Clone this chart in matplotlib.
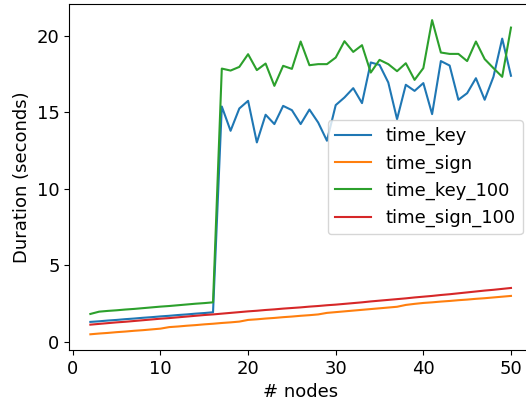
import matplotlib
matplotlib.use("Agg")
import matplotlib.pyplot as plt

nodes = list(range(2, 51))

time_key = [1.29, 1.33, 1.38, 1.42, 1.47, 1.51, 1.56, 1.60, 1.65, 1.69, 1.74, 1.78, 1.83, 1.87, 1.92,
            15.38, 13.79, 15.25, 15.75, 13.03, 14.84, 14.23, 15.42, 15.14, 14.23,
            15.18, 14.33, 13.14, 15.47, 15.97, 16.58, 15.60, 18.26, 18.10, 16.95,
            14.55, 16.80, 16.40, 16.91, 14.88, 18.35, 18.06, 15.82, 16.25, 17.23,
            15.82, 17.32, 19.82, 17.39]

time_sign = [0.48, 0.53, 0.57, 0.62, 0.66, 0.71, 0.75, 0.80, 0.85, 0.95, 0.99, 1.04, 1.08, 1.13, 1.17,
             1.22, 1.26, 1.31, 1.42, 1.46, 1.51, 1.55, 1.60, 1.64, 1.69, 1.73, 1.78, 1.88, 1.93,
             1.98, 2.03, 2.08, 2.13, 2.18, 2.23, 2.28, 2.40, 2.47, 2.53, 2.57, 2.62, 2.66, 2.71,
             2.75, 2.80, 2.84, 2.89, 2.94, 2.99]

time_key_100 = [1.81, 1.96, 2.01, 2.05, 2.10, 2.14, 2.19, 2.24, 2.29, 2.33, 2.38, 2.43, 2.48, 2.52, 2.57,
                17.86, 17.73, 17.97, 18.80, 17.76, 18.19, 16.73, 18.04, 17.84, 19.63,
                18.08, 18.15, 18.15, 18.58, 19.65, 18.95, 19.39, 17.60, 18.43, 18.15,
                17.69, 18.21, 17.12, 17.89, 21.03, 18.91, 18.82, 18.82, 18.35, 19.63,
                18.48, 17.89, 17.32, 20.54]

time_sign_100 = [1.11, 1.16, 1.21, 1.26, 1.30, 1.35, 1.40, 1.45, 1.50, 1.54, 1.59, 1.64, 1.69, 1.74,
                 1.78, 1.83, 1.88, 1.93, 1.98, 2.02, 2.07, 2.11, 2.16, 2.20, 2.24, 2.29, 2.33,
                 2.38, 2.42, 2.47, 2.52, 2.57, 2.63, 2.68, 2.73, 2.78, 2.83, 2.89, 2.94, 2.99,
                 3.05, 3.10, 3.16, 3.22, 3.28, 3.34, 3.39, 3.45, 3.51]

plt.rcParams['font.size'] = 13

fig = plt.figure(figsize=(5.26, 4.0), dpi=100)
ax = fig.add_axes([0.1318, 0.125, 0.8796, 0.864])

ax.plot(nodes, time_key, label="time_key")
ax.plot(nodes, time_sign, label="time_sign")
ax.plot(nodes, time_key_100, label="time_key_100")
ax.plot(nodes, time_sign_100, label="time_sign_100")

ax.set_xlabel("# nodes")
ax.set_ylabel("Duration (seconds)")
ax.legend(loc="center right")

fig.savefig("out.png", dpi=100)
